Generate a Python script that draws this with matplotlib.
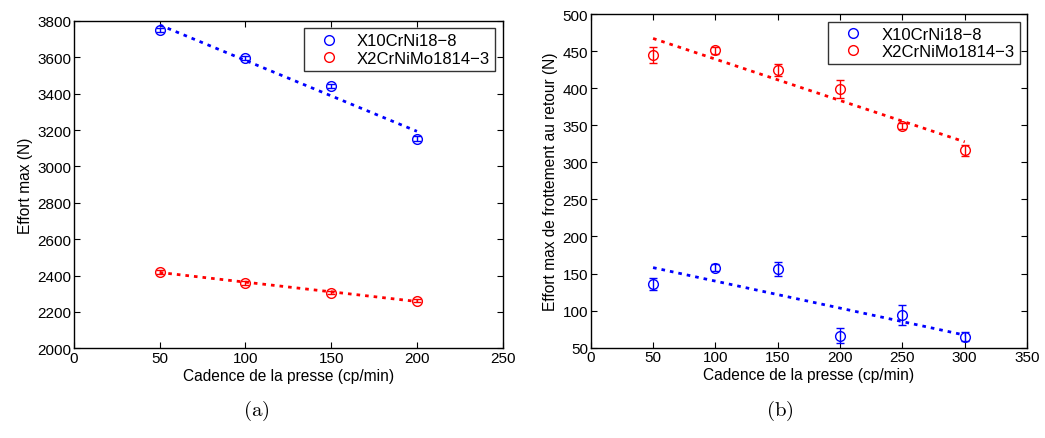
import numpy as np
import matplotlib
matplotlib.use("Agg")
import matplotlib.pyplot as plt

plt.rcParams['font.family'] = ['Liberation Sans', 'DejaVu Sans']
plt.rcParams['mathtext.fontset'] = 'cm'

# ---- data (a)
cad_a = [50, 100, 150, 200]
a_x10 = [3750, 3598, 3443, 3152]
a_x10_err = [12, 10, 12, 14]
a_x2 = [2421, 2360, 2306, 2262]
a_x2_err = [10, 10, 10, 10]

# ---- data (b)
cad_b = [50, 100, 150, 200, 250, 300]
b_x10 = [136, 158, 156, 66, 94, 65]
b_x10_err = [8, 5, 9, 10, 13, 6]
b_x2 = [445, 451, 424, 399, 349, 316]
b_x2_err = [11, 5, 8, 12, 4, 7]

labels = ['X10CrNi18\u22128', 'X2CrNiMo1814\u22123']
colors = ['#0000ff', '#ff0000']

fig = plt.figure(figsize=(10.45, 4.39), dpi=100)
axa = fig.add_axes([0.0708, 0.2043, 0.4102, 0.7456])
axb = fig.add_axes([0.5653, 0.2057, 0.4175, 0.7601])


def draw(ax, x, series, errs):
    x = np.asarray(x, dtype=float)
    for y, e, c, lab in zip(series, errs, colors, labels):
        ax.errorbar(x, y, yerr=e, fmt='o', mfc='none', mec=c, ecolor=c,
                    ms=7, mew=1.0, elinewidth=1.0, capsize=3, capthick=1.0,
                    label=lab)
        p = np.polyfit(x, y, 1)
        ax.plot(x, np.polyval(p, x), color=c, lw=2, linestyle=(0, (1.3, 1.8)))
    leg = ax.legend(handles=[plt.Line2D([], [], ls='none', marker='o', mfc='none',
                                        mec=c, ms=7, mew=1.0) for c in colors],
                    labels=labels, loc='upper right', fontsize=12,
                    frameon=True, fancybox=False, edgecolor='black',
                    borderaxespad=0.45, handletextpad=0.5, borderpad=0.3,
                    labelspacing=0.15, handlelength=2.4)
    leg.get_frame().set_linewidth(1.0)
    ax.tick_params(direction='in', top=True, right=True, labelsize=11,
                   length=4, width=0.8, pad=2)
    for s in ax.spines.values():
        s.set_linewidth(1.0)


draw(axa, cad_a, [a_x10, a_x2], [a_x10_err, a_x2_err])
axa.set_xlim(0, 250)
axa.set_ylim(2000, 3800)
axa.set_xticks(np.arange(0, 251, 50))
axa.set_yticks(np.arange(2000, 3801, 200))
axa.set_xlabel('Cadence de la presse (cp/min)', fontsize=11.2, labelpad=2)
axa.set_ylabel('Effort max (N)', fontsize=11.2, labelpad=3)

draw(axb, cad_b, [b_x10, b_x2], [b_x10_err, b_x2_err])
axb.set_xlim(0, 350)
axb.set_ylim(50, 500)
axb.set_xticks(np.arange(0, 351, 50))
axb.set_yticks(np.arange(50, 501, 50))
axb.set_xlabel('Cadence de la presse (cp/min)', fontsize=11.2, labelpad=2)
axb.set_ylabel('Effort max de frottement au retour (N)', fontsize=11.2, labelpad=3)

fig.text(0.2455, 0.065, r'$\mathrm{(a)}$', fontsize=15, ha='center', va='center')
fig.text(0.7465, 0.065, r'$\mathrm{(b)}$', fontsize=15, ha='center', va='center')

fig.savefig('out.png', dpi=100)
